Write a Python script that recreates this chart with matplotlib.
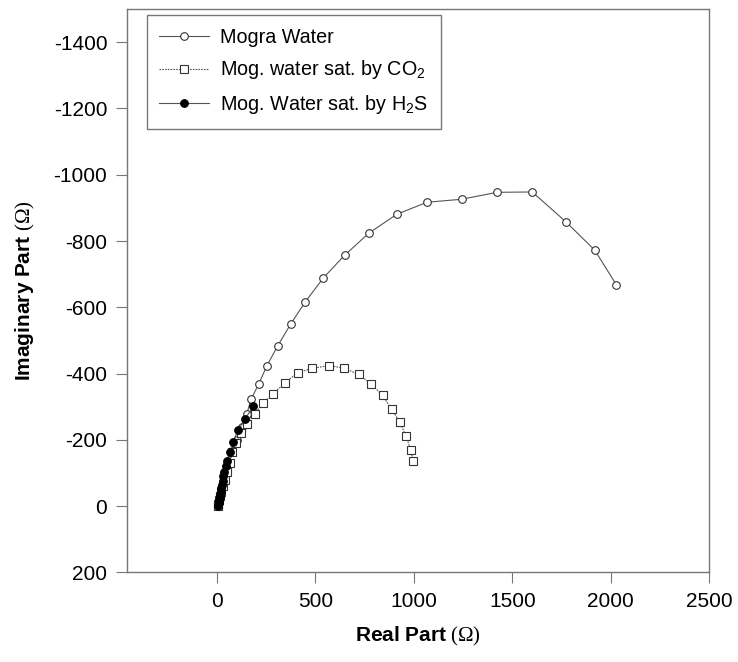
import matplotlib
matplotlib.use("Agg")
import matplotlib.pyplot as plt

# Nyquist data (real part, imaginary part in ohm)
mogra_re = [6, 10, 15, 22, 30, 42, 58, 78, 100, 125, 152, 173, 213, 254, 308, 374,
            448, 541, 648, 772, 914, 1067, 1242, 1423, 1601, 1772, 1919, 2028]
mogra_im = [0, -12, -28, -48, -70, -98, -130, -165, -200, -240, -279, -322, -370, -424, -483, -549,
            -616, -689, -757, -824, -881, -917, -926, -947, -948, -858, -772, -668]

co2_re = [5, 8, 12, 17, 23, 30, 40, 52, 65, 79, 98, 122, 152, 193, 235, 287, 347, 411,
          485, 568, 643, 719, 783, 841, 888, 929, 961, 983, 997]
co2_im = [0, -8, -18, -30, -44, -60, -80, -103, -130, -163, -191, -221, -249, -279, -311, -340, -373, -403,
          -416, -424, -417, -398, -369, -334, -292, -253, -211, -171, -136]

h2s_re = [7, 8, 9, 10, 12, 14, 16, 19, 22, 25, 29, 33, 38, 44, 51, 64, 81, 107, 144, 184]
h2s_im = [-2, -5, -9, -14, -20, -27, -35, -44, -54, -65, -77, -90, -104, -120, -136, -163, -193, -229, -264, -301]

labels = ["Mogra Water",
          r"Mog. water sat. by CO$\mathregular{_2}$",
          r"Mog. Water sat. by H$\mathregular{_2}$S"]

xticks = [0, 500, 1000, 1500, 2000, 2500]
yticks = [-1400, -1200, -1000, -800, -600, -400, -200, 0, 200]

plt.rcParams['font.family'] = ['Liberation Sans', 'DejaVu Sans']
plt.rcParams['axes.unicode_minus'] = False
plt.rcParams['mathtext.fontset'] = 'custom'
plt.rcParams['mathtext.rm'] = 'Liberation Serif'
plt.rcParams['mathtext.it'] = 'Liberation Serif'
plt.rcParams['mathtext.bf'] = 'Liberation Sans:bold'

fig = plt.figure(figsize=(7.38, 6.62), dpi=100)
ax = fig.add_axes([0.1717, 0.1352, 0.7894, 0.8512])

lc = '#555555'
ax.plot(mogra_re, mogra_im, '-', color=lc, lw=0.8, marker='o', ms=5.5,
        mfc='white', mec='#333333', mew=0.8, label=labels[0])
ax.plot(co2_re, co2_im, linestyle=(0, (1.5, 1)), color=lc, lw=0.8, marker='s', ms=5.5,
        mfc='white', mec='#333333', mew=0.8, label=labels[1])
ax.plot(h2s_re, h2s_im, '-', color=lc, lw=0.8, marker='o', ms=5.5,
        mfc='black', mec='black', mew=0.8, label=labels[2])

ax.set_xlim(-458, 2500)
ax.set_ylim(200, -1500)
ax.set_xticks(xticks)
ax.set_yticks(yticks)
ax.tick_params(direction='out', length=8, width=0.8, color='#777777',
               labelsize=15, pad=6, top=False, right=False)
for s in ax.spines.values():
    s.set_color('#777777')
    s.set_linewidth(1.0)

ax.set_xlabel(r"$\mathbf{Real\ Part}\ (\Omega)$", fontsize=15, labelpad=10)
ax.set_ylabel(r"$\mathbf{Imaginary\ Part}\ (\Omega)$", fontsize=15, labelpad=12)

leg = ax.legend(loc='upper left', bbox_to_anchor=(0.034, 0.989), borderaxespad=0,
                fontsize=14.2, frameon=True, fancybox=False, edgecolor='#777777',
                handlelength=2.5, handletextpad=0.6, labelspacing=0.58,
                borderpad=0.65, framealpha=1)
leg.get_frame().set_linewidth(1.0)

fig.savefig("out.png", dpi=100)
